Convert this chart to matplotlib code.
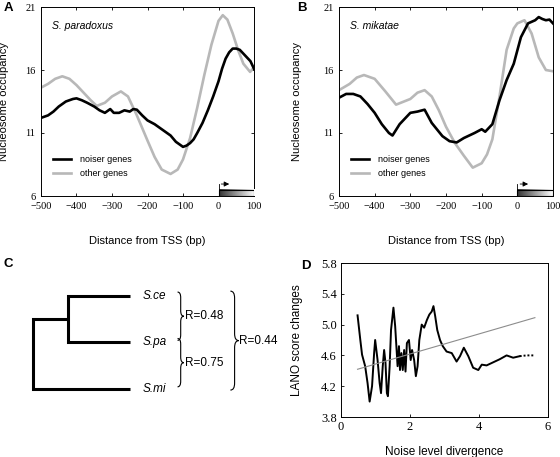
import matplotlib
matplotlib.use("Agg")
import matplotlib.pyplot as plt
import numpy as np
from matplotlib.path import Path
from matplotlib.patches import PathPatch, Rectangle

W, H = 560, 457

# ---------- data ----------
# Panel A: S. paradoxus
A_NOISY_X = [-500, -480, -465, -450, -430, -410, -400, -385, -370, -350, -335, -320,
             -305, -295, -280, -265, -250, -240, -230, -215, -200, -180, -160, -150,
             -135, -120, -110, -100, -90, -80, -70, -60, -45, -30, -15, 0, 10, 20,
             30, 40, 50, 60, 70, 80, 90, 100]
A_NOISY_Y = [12.2, 12.4, 12.7, 13.1, 13.5, 13.7, 13.75, 13.6, 13.4, 13.1, 12.8, 12.6,
             12.9, 12.6, 12.6, 12.8, 12.7, 12.9, 12.85, 12.4, 12.0, 11.7, 11.3, 11.1,
             10.8, 10.3, 10.1, 9.9, 10.0, 10.2, 10.5, 11.0, 11.8, 12.8, 13.9, 15.1,
             16.1, 16.9, 17.4, 17.7, 17.7, 17.6, 17.3, 17.0, 16.7, 16.1]
A_OTHER_X = [-500, -480, -460, -440, -420, -400, -380, -360, -343, -320, -300, -275,
             -255, -230, -200, -180, -160, -135, -115, -100, -80, -60, -40, -20, 0,
             12, 25, 40, 55, 70, 89, 100]
A_OTHER_Y = [14.6, 14.9, 15.3, 15.5, 15.3, 14.8, 14.2, 13.6, 13.15, 13.4, 13.9, 14.3,
             13.9, 12.4, 10.4, 9.1, 8.1, 7.75, 8.1, 8.9, 10.6, 13.0, 15.6, 18.0, 19.9,
             20.35, 20.0, 18.9, 17.6, 16.5, 15.85, 16.2]

# Panel B: S. mikatae
B_NOISY_X = [-500, -480, -460, -440, -420, -400, -380, -360, -350, -330, -300, -280,
             -260, -240, -210, -190, -170, -150, -120, -100, -90, -70, -50, -30, -10,
             10, 30, 50, 60, 70, 80, 90, 100]
B_NOISY_Y = [13.8, 14.1, 14.1, 13.9, 13.3, 12.6, 11.7, 11.0, 10.8, 11.7, 12.6, 12.7,
             12.85, 11.8, 10.75, 10.35, 10.25, 10.6, 11.0, 11.3, 11.1, 11.7, 13.6,
             15.2, 16.5, 18.6, 19.7, 19.95, 20.2, 20.05, 19.95, 20.0, 19.7]
B_OTHER_X = [-500, -470, -450, -430, -400, -370, -340, -300, -280, -260, -240, -220,
             -200, -175, -150, -125, -100, -85, -70, -50, -30, -10, 0, 20, 40, 60,
             80, 100]
B_OTHER_Y = [14.4, 14.9, 15.4, 15.6, 15.3, 14.3, 13.25, 13.7, 14.2, 14.4, 13.9, 12.8,
             11.5, 10.2, 9.2, 8.25, 8.6, 9.3, 10.5, 13.9, 17.6, 19.3, 19.7, 19.95,
             18.9, 17.0, 16.0, 15.9]

LEGEND_LABELS = ["noiser genes", "other genes"]
SPECIES = ["S. paradoxus", "S. mikatae"]

# Panel C: tree and correlations
LEAVES = ["S.ce", "S.pa", "S.mi"]
PAIR_R = ["R=0.48", "R=0.75"]
ALL_R = "R=0.44"

# Panel D: LANO score vs noise divergence
D_X = [0.48, 0.56, 0.61, 0.70, 0.77, 0.83, 0.90, 0.96, 0.99, 1.06, 1.12, 1.16, 1.21,
       1.25, 1.29, 1.33, 1.36, 1.41, 1.45, 1.52, 1.57, 1.64, 1.68, 1.71, 1.75, 1.79,
       1.83, 1.87, 1.91, 1.97, 2.02, 2.06, 2.12, 2.17, 2.22, 2.27, 2.34, 2.41, 2.49,
       2.56, 2.63, 2.68, 2.73, 2.79, 2.87, 2.95, 3.06, 3.21, 3.35, 3.45, 3.56, 3.69,
       3.83, 3.98, 4.08, 4.22, 4.41, 4.60, 4.80, 4.99, 5.18, 5.38, 5.59]
D_Y = [5.12, 4.80, 4.61, 4.46, 4.24, 4.00, 4.20, 4.63, 4.80, 4.54, 4.24, 4.11, 4.46,
       4.67, 4.50, 4.11, 4.07, 4.46, 4.93, 5.22, 4.98, 4.46, 4.72, 4.41, 4.63, 4.41,
       4.67, 4.39, 4.76, 4.80, 4.54, 4.67, 4.54, 4.33, 4.46, 4.80, 5.00, 4.96, 5.06,
       5.13, 5.17, 5.24, 5.11, 4.93, 4.80, 4.72, 4.65, 4.63, 4.52, 4.59, 4.70, 4.59,
       4.44, 4.41, 4.48, 4.47, 4.51, 4.55, 4.60, 4.57, 4.59, 4.60, 4.60]
D_FIT_X = [0.48, 5.62]
D_FIT_Y = [4.42, 5.09]

plt.rcParams["font.family"] = "Liberation Sans"
SERIF = "Liberation Serif"


def px_axes(x0, y0, x1, y1):
    return fig.add_axes([x0 / W, 1 - y1 / H, (x1 - x0) / W, (y1 - y0) / H])


fig = plt.figure(figsize=(W / 100, H / 100), dpi=100)


def occupancy_panel(ax, nx, ny, ox, oy, species):
    other, = ax.plot(ox, oy, color="#b8b8b8", lw=1.9, zorder=2)
    noisy, = ax.plot(nx, ny, color="black", lw=1.9, zorder=3)
    ax.set_xlim(-500, 100)
    ax.set_ylim(6, 21)
    ax.set_xticks(range(-500, 101, 100))
    ax.set_yticks([6, 11, 16, 21])
    ax.set_xticklabels(["\u2212500", "\u2212400", "\u2212300", "\u2212200", "\u2212100", "0", "100"])
    ax.tick_params(direction="in", top=True, right=True, length=2.5, width=0.6,
                   labelsize=7.5, pad=4)
    for lab in ax.get_xticklabels() + ax.get_yticklabels():
        lab.set_family(SERIF)
    for s in ax.spines.values():
        s.set_linewidth(0.7)
    ax.set_xlabel("Distance from TSS (bp)", fontsize=8)
    ax.set_ylabel("Nucleosome occupancy", fontsize=8)
    ax.text(0.05, 0.90, species, transform=ax.transAxes, fontsize=7.5,
            style="italic", va="center")
    # gene body bar with TSS arrow
    grad = np.linspace(0.2, 1.0, 256).reshape(1, -1)
    ax.imshow(grad, extent=[0, 100, 6, 6.48], aspect="auto", cmap="gray",
              vmin=0, vmax=1, zorder=4)
    ax.add_patch(Rectangle((0, 6), 100, 0.48, fill=False, lw=0.8, ec="black", zorder=5))
    ax.plot([0, 0], [6.48, 6.95], color="black", lw=0.6, zorder=5)
    ax.annotate("", xy=(38, 6.95), xytext=(0, 6.95),
                arrowprops=dict(arrowstyle="-|>,head_length=0.3,head_width=0.15",
                                lw=0.6, color="black"))
    ax.legend([noisy, other], LEGEND_LABELS, loc="lower left",
              bbox_to_anchor=(0.02, 0.05), frameon=False, fontsize=6.5,
              handlelength=2.0, handletextpad=0.9, labelspacing=0.6)
    ax.set_aspect("auto")


# ---------- Panel A ----------
axA = px_axes(41, 7, 254, 196)
occupancy_panel(axA, A_NOISY_X, A_NOISY_Y, A_OTHER_X, A_OTHER_Y, SPECIES[0])
axA.yaxis.set_label_coords(-0.15, 0.5)
axA.xaxis.set_label_coords(0.5, -0.21)

# ---------- Panel B ----------
axB = px_axes(339, 7, 553, 196)
occupancy_panel(axB, B_NOISY_X, B_NOISY_Y, B_OTHER_X, B_OTHER_Y, SPECIES[1])
axB.yaxis.set_label_coords(-0.173, 0.5)
axB.xaxis.set_label_coords(0.5, -0.21)

# ---------- Panel C: tree ----------
axC = px_axes(0, 240, 280, 457)
axC.axis("off")
# tree units: leaf index on y, branch depth on x
axC.set_xlim(-33 / 35, 247 / 35)
axC.set_ylim(3.47, -1.2)
leaf_y = np.arange(len(LEAVES))
leaf_x = 2.77
inner_x, root_x = 1.0, 0.0
inner_y = (leaf_y[0] + leaf_y[1]) / 2
tree_kw = dict(color="black", lw=2.2, solid_capstyle="butt", solid_joinstyle="miter")
axC.plot([leaf_x, inner_x, inner_x, leaf_x],
         [leaf_y[0], leaf_y[0], leaf_y[1], leaf_y[1]], **tree_kw)
axC.plot([inner_x, root_x, root_x, leaf_x],
         [inner_y, inner_y, leaf_y[2], leaf_y[2]], **tree_kw)
for name, y in zip(LEAVES, leaf_y):
    axC.text(leaf_x + 0.37, y, name, style="italic", fontsize=8.5, va="center")


def brace(ax, x, y0, y1, w, q):
    ym = (y0 + y1) / 2
    verts = [(x - w, y0), (x, y0), (x, y0 + q),
             (x, ym - q), (x, ym), (x + w, ym),
             (x, ym), (x, ym + q),
             (x, y1 - q), (x, y1), (x - w, y1)]
    codes = [Path.MOVETO, Path.CURVE3, Path.CURVE3,
             Path.LINETO, Path.CURVE3, Path.CURVE3,
             Path.CURVE3, Path.CURVE3,
             Path.LINETO, Path.CURVE3, Path.CURVE3]
    ax.add_patch(PathPatch(Path(verts, codes), fill=False, lw=0.8, ec="black"))
    return x + w, ym


bx = 4.22
for i, lab in enumerate(PAIR_R):
    tx, ty = brace(axC, bx, leaf_y[i] - 0.08, leaf_y[i + 1] - 0.04, 0.09, 0.12)
    axC.text(tx + 0.02, ty, lab, fontsize=8.5, va="center")
tx, ty = brace(axC, 5.76, leaf_y[0] - 0.1, leaf_y[2] + 0.03, 0.12, 0.15)
axC.text(tx + 0.02, ty, ALL_R, fontsize=8.5, va="center")

# ---------- Panel D ----------
axD = px_axes(341, 263, 548, 417)
split = sum(1 for v in D_X if v <= 5.2)
axD.plot(D_X[:split], D_Y[:split], color="black", lw=1.4)
axD.plot(D_X[split - 1:], D_Y[split - 1:], color="black", lw=1.4, ls=(0, (1, 1)))
axD.plot(D_FIT_X, D_FIT_Y, color="#8c8c8c", lw=0.8)
axD.set_xlim(0, 6)
axD.set_ylim(3.8, 5.8)
axD.set_xticks([0, 2, 4, 6])
axD.set_yticks([3.8, 4.2, 4.6, 5.0, 5.4, 5.8])
axD.tick_params(direction="in", length=2.5, width=0.6, labelsize=9, pad=3)
for lab in axD.get_xticklabels() + axD.get_yticklabels():
    lab.set_family(SERIF)
for s in axD.spines.values():
    s.set_linewidth(0.7)
axD.set_xlabel("Noise level divergence", fontsize=8.5)
axD.set_ylabel("LANO score changes", fontsize=8.5)
axD.yaxis.set_label_coords(-0.184, 0.5)
axD.xaxis.set_label_coords(0.5, -0.19)

# ---------- panel letters ----------
for letter, (x, y) in zip("ABCD", [(8, 8), (302, 8), (8, 264), (306, 266)]):
    fig.text(x / W, 1 - y / H, letter, fontsize=9.5, fontweight="bold",
             ha="center", va="center")

fig.savefig("out.png", dpi=100)
